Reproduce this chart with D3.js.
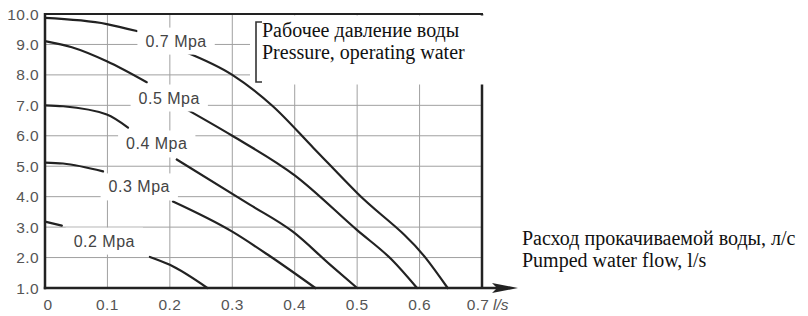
<!DOCTYPE html>
<html><head><meta charset="utf-8">
<script src="https://cdn.jsdelivr.net/npm/d3@7"></script>
<style>body{margin:0;background:#fff}svg{display:block}</style>
</head><body><svg id="c" width="808" height="316"></svg>
<script>
const xTicks = [0, 0.1, 0.2, 0.3, 0.4, 0.5, 0.6, 0.7];
const xTickLabels = ["0", "0.1", "0.2", "0.3", "0.4", "0.5", "0.6", "0.7"];
const yTicks = [1, 2, 3, 4, 5, 6, 7, 8, 9, 10];
const yTickLabels = ["1.0", "2.0", "3.0", "4.0", "5.0", "6.0", "7.0", "8.0", "9.0", "10.0"];
const pressureLabels = ["0.7 Mpa", "0.5 Mpa", "0.4 Mpa", "0.3 Mpa", "0.2 Mpa"];
const labelFlow = [0.21, 0.199, 0.179, 0.151, 0.095];
const labelHead = [9.11, 7.24, 5.73, 4.32, 2.54];
// each curve: two segments (broken by its label)
const curve07 = [[[0, 9.87], [0.099, 9.67], [0.147, 9.44]],
                 [[0.224, 8.76], [0.3, 8.0], [0.365, 6.97], [0.43, 5.6], [0.5, 4.12], [0.61, 1.98], [0.645, 1.0]]];
const curve05 = [[[0, 9.11], [0.043, 8.91], [0.099, 8.45], [0.163, 7.76]],
                 [[0.224, 6.9], [0.3, 6.0], [0.4, 4.7], [0.5, 2.9], [0.556, 1.92], [0.596, 1.0]]];
const curve04 = [[[0, 7.0], [0.029, 6.97], [0.099, 6.7], [0.133, 6.27]],
                 [[0.211, 5.22], [0.328, 3.74], [0.397, 2.85], [0.457, 1.76], [0.5, 1.0]]];
const curve03 = [[[0, 5.12], [0.029, 5.09], [0.093, 4.83]],
                 [[0.205, 3.84], [0.3, 2.85], [0.36, 2.05], [0.433, 1.0]]];
const curve02 = [[[0, 3.18], [0.027, 3.05]],
                 [[0.168, 2.02], [0.2, 1.76], [0.26, 1.0]]];
const curves = [curve07, curve05, curve04, curve03, curve02];
const titleLines = ["Рабочее давление воды", "Pressure, operating water"];
const axisLines = ["Расход прокачиваемой воды, л/с", "Pumped water flow, l/s"];
const unitLabel = "l/s";

const svg = d3.select("#c");
const x = d3.scaleLinear().domain([0, 0.7]).range([45, 482]);
const y = d3.scaleLinear().domain([1, 10]).range([288, 14]);
const sans = "'Liberation Sans', Arial, sans-serif";
const serif = "'Liberation Serif', 'Times New Roman', serif";

// grid
const g = svg.append("g");
g.selectAll(".hg").data(yTicks.slice(1, -1)).join("line")
  .attr("x1", x(0)).attr("x2", x(0.7)).attr("y1", d => y(d)).attr("y2", d => y(d))
  .attr("stroke", "#a0a0a0").attr("stroke-width", 1);
g.selectAll(".vg").data(xTicks.slice(1, -1)).join("line")
  .attr("x1", d => x(d)).attr("x2", d => x(d)).attr("y1", y(10)).attr("y2", y(1))
  .attr("stroke", "#a0a0a0").attr("stroke-width", 1);

// right border
svg.append("line").attr("x1", x(0.7)).attr("x2", x(0.7)).attr("y1", y(10)).attr("y2", y(1))
  .attr("stroke", "#222").attr("stroke-width", 2.5);

// curves
const line = d3.line().x(d => x(d[0])).y(d => y(d[1])).curve(d3.curveMonotoneX);
curves.forEach(c => {
  c.forEach(seg => {
    svg.append("path").attr("d", line(seg)).attr("fill", "none")
      .attr("stroke", "#222").attr("stroke-width", 2.2).attr("stroke-linecap", "round");
  });
});

// curve labels with white background
pressureLabels.forEach((t, i) => {
  const gg = svg.append("g");
  const r = gg.append("rect").attr("fill", "#fff");
  const tx = gg.append("text").attr("x", x(labelFlow[i])).attr("y", y(labelHead[i]))
    .attr("text-anchor", "middle").attr("dominant-baseline", "central")
    .attr("font-family", sans).attr("font-size", 16).attr("letter-spacing", 0.5)
    .attr("fill", "#444").text(t);
  const b = tx.node().getBBox();
  r.attr("x", b.x - 8).attr("y", b.y - 5).attr("width", b.width + 16).attr("height", b.height + 10);
});

// title box
const tb = svg.append("g");
tb.append("rect").attr("x", 250).attr("y", 15.5).attr("width", 236).attr("height", 69).attr("fill", "#fff");
tb.append("path").attr("d", "M262,22 H256 V82 H262").attr("fill", "none").attr("stroke", "#333").attr("stroke-width", 1.6);
tb.selectAll("text").data(titleLines).join("text")
  .attr("x", 262).attr("y", (d, i) => 37 + i * 22)
  .attr("font-family", serif).attr("font-size", 20).attr("fill", "#111").text(d => d);

// top border
svg.append("line").attr("x1", x(0) - 1).attr("x2", x(0.7) + 1).attr("y1", y(10)).attr("y2", y(10))
  .attr("stroke", "#222").attr("stroke-width", 2);

// axes
svg.append("line").attr("x1", x(0)).attr("x2", x(0)).attr("y1", y(10) - 1).attr("y2", y(1) + 1.2)
  .attr("stroke", "#222").attr("stroke-width", 2.5);
svg.append("line").attr("x1", x(0) - 1.2).attr("x2", 500).attr("y1", y(1)).attr("y2", y(1))
  .attr("stroke", "#222").attr("stroke-width", 2.5);
svg.append("path").attr("d", "M492,283 L518,288 L492,293 L497,288 Z").attr("fill", "#222");

// tick labels
svg.selectAll(".yl").data(yTicks).join("text")
  .attr("x", 39).attr("y", d => y(d)).attr("text-anchor", "end").attr("dominant-baseline", "central")
  .attr("font-family", sans).attr("font-size", 15.5).attr("letter-spacing", 0.4).attr("fill", "#555")
  .text((d, i) => yTickLabels[i]);
svg.selectAll(".xl").data(xTicks).join("text")
  .attr("x", (d, i) => x(d) + (i === 0 ? 3 : (i === xTicks.length - 1 ? -4 : 0))).attr("y", 310).attr("text-anchor", "middle")
  .attr("font-family", sans).attr("font-size", 15.5).attr("letter-spacing", 0.4).attr("fill", "#555")
  .text((d, i) => xTickLabels[i]);
svg.append("text").attr("x", x(0.7) + 11).attr("y", 310)
  .attr("font-family", sans).attr("font-size", 15.5).attr("font-style", "italic").attr("fill", "#555").text(unitLabel);

// axis title
svg.selectAll(".at").data(axisLines).join("text")
  .attr("x", 522).attr("y", (d, i) => 245 + i * 22)
  .attr("font-family", serif).attr("font-size", 20).attr("fill", "#111").text(d => d);
</script></body></html>
